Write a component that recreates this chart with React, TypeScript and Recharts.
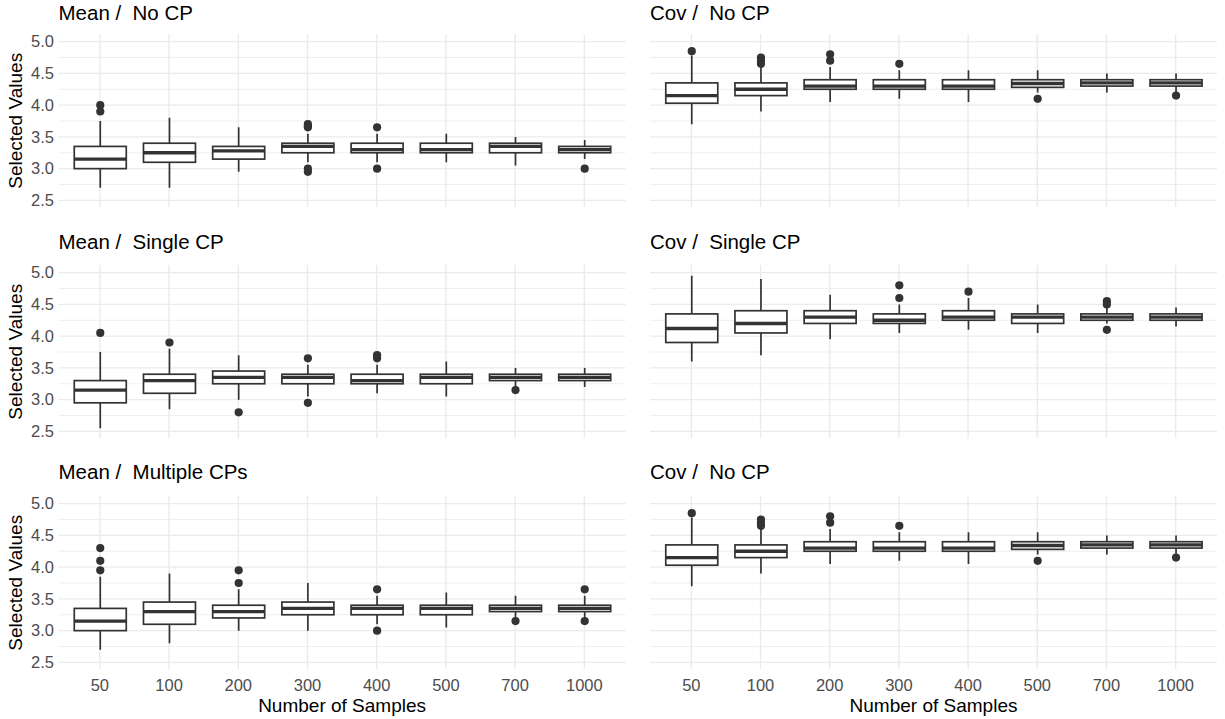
import React from "react";
import { ComposedChart, Bar, XAxis, YAxis, CartesianGrid } from "recharts";

const samples = ["50", "100", "200", "300", "400", "500", "700", "1000"];
const majorTicks = [2.5, 3.0, 3.5, 4.0, 4.5, 5.0];
const minorTicks = [2.75, 3.25, 3.75, 4.25, 4.75];

// each row: [lower whisker, Q1, median, Q3, upper whisker]
const meanNoCpBox = [
  [2.7, 3.0, 3.15, 3.35, 3.75],
  [2.7, 3.1, 3.25, 3.4, 3.8],
  [2.95, 3.15, 3.28, 3.35, 3.65],
  [3.1, 3.25, 3.35, 3.4, 3.55],
  [3.1, 3.25, 3.3, 3.4, 3.55],
  [3.1, 3.25, 3.3, 3.4, 3.55],
  [3.05, 3.25, 3.35, 3.4, 3.5],
  [3.15, 3.25, 3.3, 3.35, 3.45],
];
const meanNoCpOut = [[4.0, 3.9], [], [], [3.7, 3.67, 3.65, 3.0, 2.95], [3.65, 3.0], [], [], [3.0]];

const covNoCpBox = [
  [3.7, 4.03, 4.15, 4.35, 4.78],
  [3.9, 4.15, 4.25, 4.35, 4.6],
  [4.05, 4.25, 4.3, 4.4, 4.6],
  [4.1, 4.25, 4.3, 4.4, 4.55],
  [4.05, 4.25, 4.3, 4.4, 4.55],
  [4.2, 4.28, 4.34, 4.4, 4.55],
  [4.2, 4.3, 4.35, 4.4, 4.5],
  [4.2, 4.3, 4.35, 4.4, 4.5],
];
const covNoCpOut = [[4.85], [4.65, 4.7, 4.75], [4.7, 4.8], [4.65], [], [4.1], [], [4.15]];

const meanSingleBox = [
  [2.55, 2.95, 3.15, 3.3, 3.75],
  [2.85, 3.1, 3.3, 3.4, 3.8],
  [3.0, 3.25, 3.35, 3.45, 3.7],
  [3.05, 3.25, 3.35, 3.4, 3.55],
  [3.1, 3.25, 3.3, 3.4, 3.55],
  [3.05, 3.25, 3.35, 3.4, 3.6],
  [3.2, 3.3, 3.35, 3.4, 3.5],
  [3.2, 3.3, 3.35, 3.4, 3.5],
];
const meanSingleOut = [[4.05], [3.9], [2.8], [3.65, 2.95], [3.7, 3.65], [], [3.15], []];

const covSingleBox = [
  [3.6, 3.9, 4.12, 4.35, 4.95],
  [3.7, 4.05, 4.2, 4.4, 4.9],
  [3.95, 4.2, 4.3, 4.4, 4.65],
  [4.05, 4.2, 4.25, 4.35, 4.5],
  [4.1, 4.25, 4.3, 4.4, 4.6],
  [4.05, 4.2, 4.3, 4.35, 4.5],
  [4.2, 4.25, 4.3, 4.35, 4.45],
  [4.15, 4.25, 4.3, 4.35, 4.45],
];
const covSingleOut = [[], [], [], [4.6, 4.8], [4.7], [], [4.55, 4.5, 4.1], []];

const meanMultiBox = [
  [2.7, 3.0, 3.15, 3.35, 3.85],
  [2.8, 3.1, 3.3, 3.45, 3.9],
  [3.0, 3.2, 3.3, 3.4, 3.65],
  [3.0, 3.25, 3.35, 3.45, 3.75],
  [3.1, 3.25, 3.35, 3.4, 3.55],
  [3.05, 3.25, 3.35, 3.4, 3.6],
  [3.2, 3.3, 3.35, 3.4, 3.55],
  [3.2, 3.3, 3.35, 3.4, 3.55],
];
const meanMultiOut = [[4.3, 4.1, 3.95], [], [3.95, 3.75], [], [3.65, 3.0], [], [3.15], [3.65, 3.15]];

const FONT = "'Liberation Sans', Arial, sans-serif";
const INK = "#333333";

// draws one boxplot inside the whisker-range bar that recharts positions
const BoxShape = (props: any) => {
  const { x, y, width, height, payload } = props;
  const [lo, q1, med, q3, hi] = payload.stats;
  const py = (v: number) => y + ((hi - v) / (hi - lo)) * height;
  const cx = x + width / 2;
  return (
    <g>
      <line x1={cx} x2={cx} y1={py(hi)} y2={py(q3)} stroke={INK} strokeWidth={1.7} />
      <line x1={cx} x2={cx} y1={py(q1)} y2={py(lo)} stroke={INK} strokeWidth={1.7} />
      <rect
        x={x}
        y={py(q3)}
        width={width}
        height={py(q1) - py(q3)}
        fill="#ffffff"
        stroke={INK}
        strokeWidth={1.7}
      />
      <line x1={x} x2={x + width} y1={py(med)} y2={py(med)} stroke={INK} strokeWidth={3.4} />
      {payload.out.map((v: number, i: number) => (
        <circle key={i} cx={cx} cy={py(v)} r={4.1} fill={INK} />
      ))}
    </g>
  );
};

const PLOT_H = 173.2;
const rowTop = (r: number) => 34.2 + 231 * r;

function Panel({ stats, out, col, row }: any) {
  const data = samples.map((n, i) => ({
    n,
    range: [stats[i][0], stats[i][4]],
    stats: stats[i],
    out: out[i],
  }));
  const bottom = row === 2;
  const left = col === 0;
  const width = left ? 640 : 585;
  const margin = {
    top: 5,
    right: left ? 14.3 : 8,
    left: left ? 0 : 10,
    bottom: bottom ? 2 : 5,
  };
  const height = 5 + PLOT_H + (bottom ? 32 : 5);
  return (
    <div style={{ position: "absolute", left: left ? 0 : 640, top: rowTop(row) - 5 }}>
      <ComposedChart width={width} height={height} data={data} margin={margin}>
        <CartesianGrid
          vertical={false}
          horizontalValues={minorTicks}
          syncWithTicks
          stroke="#EBEBEB"
          strokeWidth={0.8}
        />
        <CartesianGrid syncWithTicks stroke="#EBEBEB" strokeWidth={1.4} />
        <XAxis
          dataKey="n"
          type="category"
          hide={!bottom}
          height={30}
          padding={{ left: 6.75, right: 6.75 }}
          axisLine={false}
          tickLine={false}
          tickSize={0}
          tickMargin={10}
          tick={{ fill: "#4D4D4D", fontSize: 16.5 }}
        />
        <YAxis
          type="number"
          domain={[2.393, 5.12]}
          allowDataOverflow
          ticks={majorTicks}
          hide={!left}
          width={58.5}
          axisLine={false}
          tickLine={false}
          tickSize={0}
          tickMargin={4.5}
          tickFormatter={(v: number) => v.toFixed(1)}
          tick={{ fill: "#4D4D4D", fontSize: 16.5 }}
        />
        <Bar dataKey="range" barSize={52} shape={BoxShape} isAnimationActive={false} />
      </ComposedChart>
    </div>
  );
}

const titles = [
  ["Mean /  No CP", "Cov /  No CP"],
  ["Mean /  Single CP", "Cov /  Single CP"],
  ["Mean /  Multiple CPs", "Cov /  No CP"],
];

export default function App() {
  return (
    <div
      style={{
        position: "absolute",
        left: 0,
        top: 0,
        width: 1225,
        height: 719,
        background: "#ffffff",
        fontFamily: FONT,
      }}
    >
      <Panel stats={meanNoCpBox} out={meanNoCpOut} col={0} row={0} />
      <Panel stats={covNoCpBox} out={covNoCpOut} col={1} row={0} />
      <Panel stats={meanSingleBox} out={meanSingleOut} col={0} row={1} />
      <Panel stats={covSingleBox} out={covSingleOut} col={1} row={1} />
      <Panel stats={meanMultiBox} out={meanMultiOut} col={0} row={2} />
      <Panel stats={covNoCpBox} out={covNoCpOut} col={1} row={2} />

      <svg
        width={1225}
        height={719}
        style={{ position: "absolute", left: 0, top: 0, pointerEvents: "none" }}
      >
        {titles.map((pair, r) => (
          <g key={r}>
            <text x={58.5} y={19.5 + 229.5 * r} fontSize={20.5} fill="#000" style={{ whiteSpace: "pre" }}>
              {pair[0]}
            </text>
            <text x={650} y={19.5 + 229.5 * r} fontSize={20.5} fill="#000" style={{ whiteSpace: "pre" }}>
              {pair[1]}
            </text>
            <text
              transform={`translate(22, ${rowTop(r) + PLOT_H / 2}) rotate(-90)`}
              textAnchor="middle"
              fontSize={19}
              fill="#000"
            >
              Selected Values
            </text>
          </g>
        ))}
        <text x={342.1} y={712} textAnchor="middle" fontSize={19} fill="#000">
          Number of Samples
        </text>
        <text x={933.5} y={712} textAnchor="middle" fontSize={19} fill="#000">
          Number of Samples
        </text>
      </svg>
    </div>
  );
}
